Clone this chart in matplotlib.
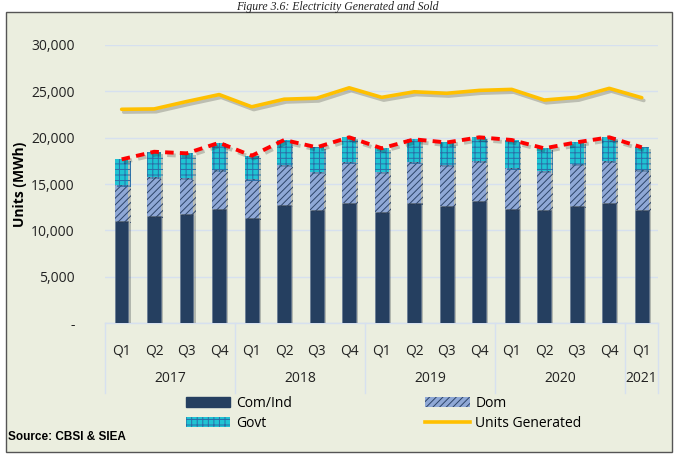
import numpy as np
import matplotlib.pyplot as plt
from matplotlib.patches import Patch, Rectangle
from matplotlib.lines import Line2D
import matplotlib.patheffects as pe
from matplotlib.ticker import FuncFormatter

plt.rcParams['font.family'] = ['Open Sans', 'DejaVu Sans']
plt.rcParams['hatch.linewidth'] = 0.7

quarters = ["Q1", "Q2", "Q3", "Q4"] * 4 + ["Q1"]
years = ["2017", "2018", "2019", "2020", "2021"]
year_len = [4, 4, 4, 4, 1]

com_ind = [11000, 11550, 11750, 12300, 11350, 12730, 12200, 12980, 12000,
           12980, 12640, 13160, 12340, 12230, 12660, 12950, 12230]
dom = [3900, 4170, 3930, 4210, 4150, 4330, 4130, 4430, 4330,
       4430, 4410, 4350, 4350, 4170, 4460, 4560, 4280]
govt = [2760, 2760, 2630, 2940, 2550, 2690, 2630, 2630, 2520,
        2410, 2430, 2530, 3060, 2450, 2380, 2530, 2450]
generated = [23060, 23100, 23900, 24650, 23330, 24150, 24260, 25380, 24350,
             24950, 24790, 25100, 25210, 24060, 24350, 25320, 24310]

com_ind = np.array(com_ind)
dom = np.array(dom)
govt = np.array(govt)
sold = com_ind + dom + govt
x = np.arange(len(quarters))

W, H = 675, 455
fig = plt.figure(figsize=(W / 100, H / 100), dpi=100)
fig.patch.set_facecolor('white')
bg = '#EBEEDF'
fig.patches.append(Rectangle((6 / W, 3 / H), 666 / W, 440 / H, transform=fig.transFigure,
                             facecolor=bg, edgecolor='#555555', lw=1.0, zorder=-10))
fig.text(0.5, 1 - 1 / H, "Figure 3.6: Electricity Generated and Sold", ha='center',
         va='top', family='Liberation Serif', style='italic', fontsize=8.5, color='#222222')

ax = fig.add_axes([105.4 / W, 1 - 323 / H, 552.6 / W, 278 / H])
ax.set_facecolor('none')

shadow = [pe.SimplePatchShadow(offset=(1.5, -1.5), alpha=0.25), pe.Normal()]
bw = 0.42
b1 = ax.bar(x, com_ind, bw, color='#253F60', edgecolor='#5D7290', lw=0.4, zorder=3)
b2 = ax.bar(x, dom, bw, bottom=com_ind, color='#8FA8D6', edgecolor='#2C4468',
            lw=0, hatch='/////', zorder=3)
b3 = ax.bar(x, govt, bw, bottom=com_ind + dom, color='#1FC3D3', edgecolor='#2A6FA8',
            lw=0, hatch='+++', zorder=3)
for bars in (b1, b2, b3):
    for r in bars:
        r.set_path_effects(shadow)

line_shadow = [pe.SimpleLineShadow(offset=(1.5, -2), alpha=0.2), pe.Normal()]
ax.plot(x, generated, color='#FFC000', lw=2.6, zorder=4, path_effects=line_shadow,
        solid_capstyle='round')
ax.plot(x, sold, color='#FF0000', lw=2.8, ls=(0, (2.2, 1.6)), zorder=5,
        path_effects=line_shadow)

ax.set_xlim(-0.5, len(x) - 0.5)
ax.set_ylim(0, 30000)
ax.set_yticks(np.arange(0, 30001, 5000))
ax.yaxis.set_major_formatter(FuncFormatter(lambda v, p: '-' if v == 0 else f'{int(v):,}'))
ax.grid(axis='y', color='#D6E0EF', lw=1.0, zorder=0)
for s in ax.spines.values():
    s.set_visible(False)
ax.tick_params(axis='y', length=0, pad=22, labelsize=10, labelcolor='#222222')
ax.set_xticks(x)
ax.set_xticklabels(quarters, fontsize=10, color='#222222')
ax.tick_params(axis='x', length=0, pad=15)
ax.set_ylabel("Units (MWh)", fontsize=10, fontweight='bold')
ax.yaxis.set_label_coords(-0.141, 0.5)

# two-level category axis
trans = ax.get_xaxis_transform()
sep_col = '#D6E0EF'
ax.plot([-0.5, len(x) - 0.5], [0, 0], color=sep_col, lw=1.0, transform=trans, clip_on=False)
start = 0
bounds = [-0.5]
for yr, n in zip(years, year_len):
    ax.text(start + (n - 1) / 2, -0.198, yr, transform=trans, ha='center', va='center',
            fontsize=10, color='#222222')
    start += n
    bounds.append(start - 0.5)
for b in bounds:
    ax.plot([b, b], [0, -0.252], color=sep_col, lw=1.0, transform=trans, clip_on=False)

handles = [Patch(facecolor='#253F60', edgecolor='#253F60', label='Com/Ind'),
           Patch(facecolor='#1FC3D3', edgecolor='#2A6FA8', hatch='+++', lw=0, label='Govt'),
           Patch(facecolor='#8FA8D6', edgecolor='#2C4468', hatch='/////', lw=0, label='Dom'),
           Line2D([], [], color='#FFC000', lw=2.6, label='Units Generated')]
fig.legend(handles=handles, ncol=2, loc='upper left', bbox_to_anchor=(186 / W, 1 - 396 / H),
           frameon=False, fontsize=10, handlelength=3.2, handleheight=0.75,
           handletextpad=0.4, columnspacing=9.6, labelspacing=0.35, borderpad=0,
           borderaxespad=0)

fig.text(8 / W, 1 - 437 / H, "Source: CBSI & SIEA", fontsize=8.5, fontweight='bold',
         family='Liberation Sans', va='center', ha='left')

fig.savefig('out.png', dpi=100, facecolor=fig.get_facecolor())
